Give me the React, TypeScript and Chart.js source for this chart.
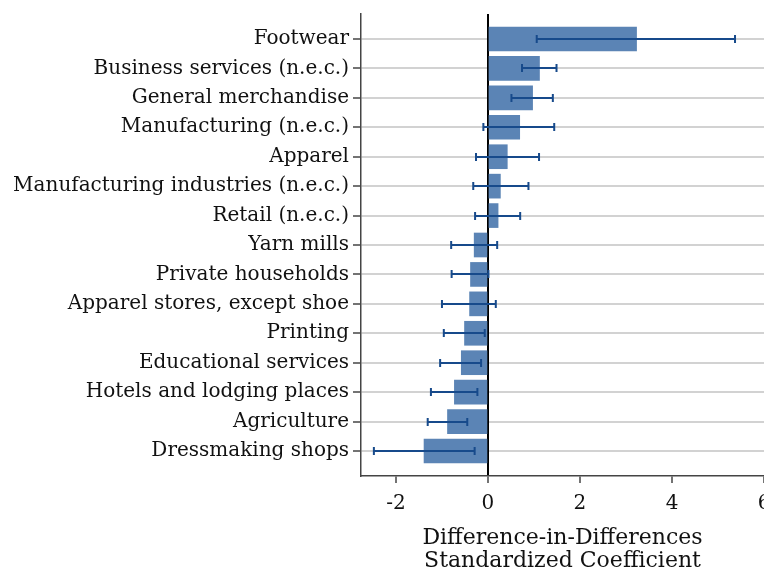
import React, { useEffect, useRef } from "react";
import { Chart, registerables } from "chart.js";

Chart.register(...registerables);

const categories = [
  "Footwear",
  "Business services (n.e.c.)",
  "General merchandise",
  "Manufacturing (n.e.c.)",
  "Apparel",
  "Manufacturing industries (n.e.c.)",
  "Retail (n.e.c.)",
  "Yarn mills",
  "Private households",
  "Apparel stores, except shoe",
  "Printing",
  "Educational services",
  "Hotels and lodging places",
  "Agriculture",
  "Dressmaking shops",
];

const coefficients = [3.23, 1.12, 0.97, 0.69, 0.42, 0.27, 0.22, -0.3, -0.38, -0.4, -0.51, -0.58, -0.73, -0.88, -1.39];
const ciLower = [1.06, 0.74, 0.51, -0.1, -0.26, -0.32, -0.28, -0.8, -0.79, -1.0, -0.96, -1.04, -1.24, -1.31, -2.48];
const ciUpper = [5.37, 1.49, 1.41, 1.44, 1.11, 0.88, 0.7, 0.2, 0.01, 0.17, -0.07, -0.15, -0.23, -0.45, -0.29];

const xTicks = [-2, 0, 2, 4, 6];

const FONT = "'DejaVu Serif', 'Liberation Serif', serif";
const BAR_COLOR = "#5b84b5";
const ERR_COLOR = "#174a8b";
const AXIS_COLOR = "#444444";

const errorBarPlugin = {
  id: "errorBars",
  afterDatasetsDraw(chart: any) {
    const xs = chart.scales.x;
    const ys = chart.scales.y;
    const ctx = chart.ctx;
    ctx.save();
    ctx.strokeStyle = ERR_COLOR;
    ctx.lineWidth = 2;
    for (let i = 0; i < categories.length; i++) {
      const y = Math.round(ys.getPixelForValue(i));
      const x1 = xs.getPixelForValue(ciLower[i]);
      const x2 = xs.getPixelForValue(ciUpper[i]);
      ctx.beginPath();
      ctx.moveTo(x1, y);
      ctx.lineTo(x2, y);
      ctx.moveTo(x1, y - 4);
      ctx.lineTo(x1, y + 4);
      ctx.moveTo(x2, y - 4);
      ctx.lineTo(x2, y + 4);
      ctx.stroke();
    }
    ctx.restore();
  },
};

export default function App() {
  const ref = useRef<HTMLCanvasElement | null>(null);

  useEffect(() => {
    if (!ref.current) return;
    const chart = new Chart(ref.current, {
      type: "bar",
      data: {
        datasets: [
          {
            data: coefficients.map((v, i) => ({ x: v, y: i })),
            backgroundColor: BAR_COLOR,
            borderWidth: 0,
            barThickness: 24,
          },
        ],
      },
      options: {
        indexAxis: "y",
        animation: false,
        responsive: false,
        maintainAspectRatio: false,
        layout: { padding: { top: 14, left: 0, right: 0, bottom: 0 } },
        plugins: {
          legend: { display: false },
          tooltip: { enabled: false },
        },
        scales: {
          y: {
            type: "linear",
            reverse: true,
            offset: false,
            min: -0.85,
            max: categories.length - 1 + 0.85,
            afterBuildTicks: (scale: any) => {
              scale.ticks = categories.map((_, i) => ({ value: i }));
            },
            afterFit: (scale: any) => {
              scale.width = 361;
              scale.paddingTop = 0;
              scale.paddingBottom = 0;
            },
            ticks: {
              autoSkip: false,
              padding: 4,
              color: "#111",
              font: { family: FONT, size: 20 },
              callback: (v: any) => categories[v] ?? "",
            },
            grid: {
              offset: false,
              color: "#d2d2d2",
              lineWidth: 2,
              drawTicks: true,
              tickLength: 8,
              tickColor: AXIS_COLOR,
              tickWidth: 1.5,
            },
            border: { color: AXIS_COLOR, width: 1.5 },
          },
          x: {
            type: "linear",
            min: -2.76,
            max: 6,
            afterBuildTicks: (scale: any) => {
              scale.ticks = xTicks.map((v) => ({ value: v }));
            },
            afterFit: (scale: any) => {
              scale.paddingRight = 0;
              scale.paddingLeft = 0;
              scale.height = 92;
            },
            ticks: {
              autoSkip: false,
              padding: 9,
              color: "#111",
              font: { family: FONT, size: 20 },
              maxRotation: 0,
              callback: (v: any) => String(v),
            },
            grid: {
              color: (c: any) => (c.tick && c.tick.value === 0 ? "#000000" : "rgba(0,0,0,0)"),
              lineWidth: 2,
              drawTicks: true,
              tickLength: 7,
              tickColor: AXIS_COLOR,
              tickWidth: 1.5,
            },
            border: { color: AXIS_COLOR, width: 1.5 },
            title: {
              display: true,
              text: ["Difference-in-Differences", "Standardized Coefficient"],
              color: "#111",
              font: { family: FONT, size: 22, lineHeight: 1.05 },
              padding: { top: 0, bottom: -5 },
            },
          },
        },
      },
      plugins: [errorBarPlugin],
    } as any);
    return () => chart.destroy();
  }, []);

  return (
    <div style={{ position: "fixed", left: 0, top: 0, width: 764, height: 568, overflow: "hidden", background: "#fff" }}>
      <canvas ref={ref} width={764} height={568} style={{ display: "block" }} />
    </div>
  );
}
